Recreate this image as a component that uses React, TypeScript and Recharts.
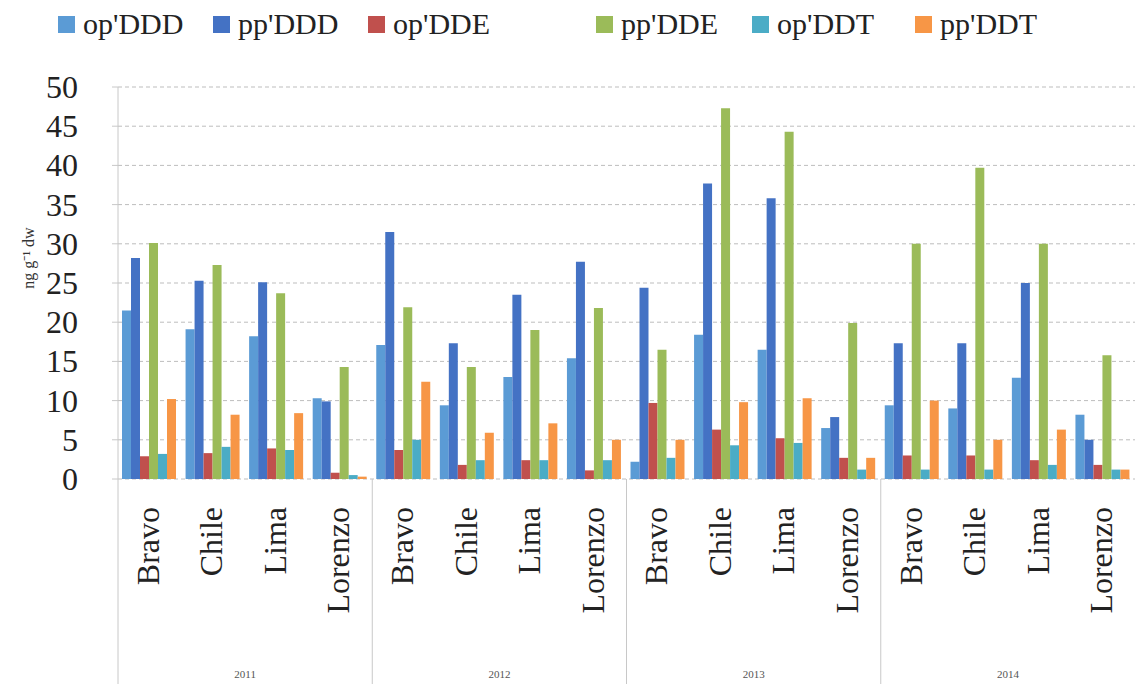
import React from "react";
import { BarChart, Bar, XAxis, YAxis, CartesianGrid } from "recharts";

const sites = [
  "Bravo", "Chile", "Lima", "Lorenzo",
  "Bravo", "Chile", "Lima", "Lorenzo",
  "Bravo", "Chile", "Lima", "Lorenzo",
  "Bravo", "Chile", "Lima", "Lorenzo",
];
const groups = ["2011", "2012", "2013", "2014"];

const opDDD = [21.5, 19.1, 18.2, 10.3, 17.1, 9.4, 13.0, 15.4, 2.2, 18.4, 16.5, 6.5, 9.4, 9.0, 12.9, 8.2];
const ppDDD = [28.2, 25.3, 25.1, 9.9, 31.5, 17.3, 23.5, 27.7, 24.4, 37.7, 35.8, 7.9, 17.3, 17.3, 25.0, 5.0];
const opDDE = [2.9, 3.3, 3.9, 0.8, 3.7, 1.8, 2.4, 1.1, 9.7, 6.3, 5.2, 2.7, 3.0, 3.0, 2.4, 1.8];
const ppDDE = [30.1, 27.3, 23.7, 14.3, 21.9, 14.3, 19.0, 21.8, 16.5, 47.3, 44.3, 19.9, 30.0, 39.7, 30.0, 15.8];
const opDDT = [3.2, 4.1, 3.7, 0.5, 5.0, 2.4, 2.4, 2.4, 2.7, 4.3, 4.6, 1.2, 1.2, 1.2, 1.8, 1.2];
const ppDDT = [10.2, 8.2, 8.4, 0.3, 12.4, 5.9, 7.1, 5.0, 5.0, 9.8, 10.3, 2.7, 10.0, 5.0, 6.3, 1.2];

const yTicks = [0, 5, 10, 15, 20, 25, 30, 35, 40, 45, 50];

const series = [
  { key: "opDDD", label: "op'DDD", color: "#5b9bd5", left: 58 },
  { key: "ppDDD", label: "pp'DDD", color: "#4472c4", left: 213 },
  { key: "opDDE", label: "op'DDE", color: "#c0504d", left: 368 },
  { key: "ppDDE", label: "pp'DDE", color: "#9bbb59", left: 596 },
  { key: "opDDT", label: "op'DDT", color: "#4bacc6", left: 752 },
  { key: "ppDDT", label: "pp'DDT", color: "#f79646", left: 915 },
];

const data = sites.map((s, i) => ({
  idx: i,
  site: s,
  opDDD: opDDD[i],
  ppDDD: ppDDD[i],
  opDDE: opDDE[i],
  ppDDE: ppDDE[i],
  opDDT: opDDT[i],
  ppDDT: ppDDT[i],
}));

const W = 1138;
const H = 684;
const PLOT_LEFT = 118;
const PLOT_RIGHT = 3;
const BAND = (W - PLOT_LEFT - PLOT_RIGHT) / sites.length;

function SiteTick(props: any) {
  const { x, y, payload } = props;
  const i = payload.value as number;
  const left = x - BAND / 2;
  return (
    <g>
      {i % 4 === 0 && (
        <line x1={left} y1={y - 8} x2={left} y2={H} stroke="#c8c8c8" />
      )}
      <text
        transform={`translate(${x + 9},${y + 20}) rotate(-90)`}
        textAnchor="end"
        fontFamily="serif"
        fontSize={32}
        fill="#222"
      >
        {sites[i]}
      </text>
      {i % 4 === 1 && (
        <text x={x + BAND / 2} y={H - 6} textAnchor="middle" fontFamily="serif" fontSize={11} fill="#555">
          {groups[Math.floor(i / 4)]}
        </text>
      )}
    </g>
  );
}

function ValueTick(props: any) {
  const { x, y, payload } = props;
  return (
    <text x={x - 32} y={y + 11} textAnchor="end" fontFamily="serif" fontSize={32} fill="#222">
      {payload.value}
    </text>
  );
}

export default function App() {
  return (
    <div style={{ position: "absolute", left: 0, top: 0, width: W, height: H, background: "#fff" }}>
      {series.map((s) => (
        <div
          key={s.key}
          style={{
            position: "absolute",
            left: s.left,
            top: 7,
            display: "flex",
            alignItems: "center",
            fontFamily: "serif",
            fontSize: 30,
            color: "#222",
            whiteSpace: "nowrap",
          }}
        >
          <span style={{ width: 17, height: 17, background: s.color, marginRight: 8, display: "inline-block" }} />
          <span>{s.label}</span>
        </div>
      ))}
      <svg style={{ position: "absolute", left: 0, top: 0 }} width={60} height={H}>
        <text
          transform="translate(34,258) rotate(-90)"
          textAnchor="middle"
          fontFamily="serif"
          fontSize={16}
          fill="#333"
        >
          ng g⁻¹ dw
        </text>
      </svg>
      <BarChart
        width={W}
        height={H}
        data={data}
        margin={{ top: 87, right: PLOT_RIGHT, left: 0, bottom: 0 }}
        barCategoryGap={4}
        barGap={0}
        style={{ position: "absolute", left: 0, top: 0 }}
      >
        <CartesianGrid vertical={false} stroke="#bdbdbd" strokeDasharray="4 3" />
        <XAxis
          dataKey="idx"
          type="category"
          height={205}
          interval={0}
          tick={<SiteTick />}
          tickLine={false}
          axisLine={false}
        />
        <YAxis
          width={PLOT_LEFT}
          domain={[0, 50]}
          ticks={yTicks}
          interval={0}
          tick={<ValueTick />}
          tickLine={{ stroke: "#c8c8c8" }}
          axisLine={{ stroke: "#c8c8c8" }}
        />
        {series.map((s) => (
          <Bar key={s.key} dataKey={s.key} fill={s.color} isAnimationActive={false} />
        ))}
      </BarChart>
    </div>
  );
}
